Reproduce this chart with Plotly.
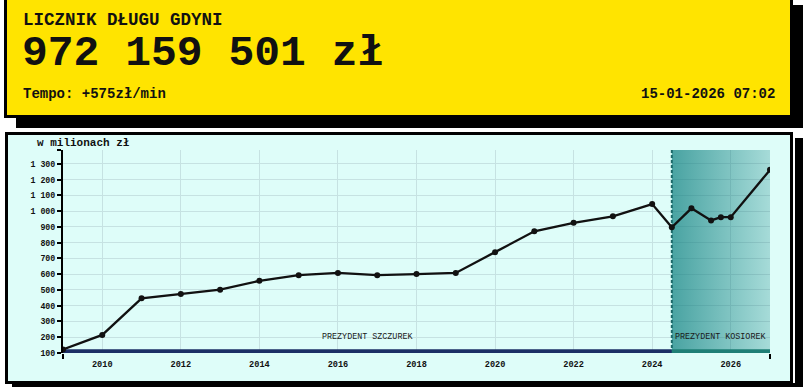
import plotly.graph_objects as go

# ---------------- data ----------------
years = [2009, 2010, 2011, 2012, 2013, 2014, 2015, 2016, 2017, 2018, 2019,
         2020, 2021, 2022, 2023, 2024, 2024.5, 2025, 2025.5, 2025.75, 2026, 2027]
debt = [122, 215, 447, 475, 502, 558, 594, 608, 594, 601, 608,
        740, 872, 926, 967, 1045, 898, 1018, 941, 962, 962, 1262]

term_names = ["PREZYDENT SZCZUREK", "PREZYDENT KOSIOREK"]
term_start = [2009, 2024.5]
term_end = [2024.5, 2027]

y_tickvals = [100, 200, 300, 400, 500, 600, 700, 800, 900, 1000, 1100, 1200, 1300]
y_ticktext = ["100", "200", "300", "400", "500", "600", "700", "800", "900",
              "1 000", "1 100", "1 200", "1 300"]
x_tickvals = [2010, 2012, 2014, 2016, 2018, 2020, 2022, 2024, 2026]
x_ticktext = ["2010", "2012", "2014", "2016", "2018", "2020", "2022", "2024", "2026"]

title_text = "LICZNIK DŁUGU GDYNI"
counter_text = "972 159 501 zł"
tempo_text = "Tempo: +575zł/min"
date_text = "15-01-2026 07:02"
unit_text = "w milionach zł"

Y_MIN = 100
Y_MAX = 1388

# ---------------- layout geometry (pixels) ----------------
WIDTH, HEIGHT = 807, 387
ML, MR, MT, MB = 63, 37, 150, 34
PW = WIDTH - ML - MR
PH = HEIGHT - MT - MB


def X(px):
    return (px - ML) / PW


def Y(py):
    return (HEIGHT - MB - py) / PH


FONT = "Liberation Mono, Courier New, monospace"
YELLOW = "#FFE400"
CYAN = "#DEFDF9"
NAVY = "#1B2F66"
TEAL = "#1E7F76"
BAND = 24  # band thickness in data units

fig = go.Figure()

# shaded region of the second term (gradient)
fig.add_trace(go.Scatter(
    x=[term_start[1], term_end[1], term_end[1], term_start[1], term_start[1]],
    y=[Y_MIN, Y_MIN, Y_MAX, Y_MAX, Y_MIN],
    mode="lines", line=dict(width=0), fill="toself",
    fillgradient=dict(type="horizontal",
                      colorscale=[[0, "rgba(15,128,128,0.72)"],
                                  [1, "rgba(15,128,128,0.27)"]]),
    hoverinfo="skip", showlegend=False))

# dashed boundary line
fig.add_trace(go.Scatter(
    x=[term_start[1], term_start[1]], y=[Y_MIN, Y_MAX],
    mode="lines", line=dict(color="#1D6A6A", width=2, dash="3px,2px"),
    hoverinfo="skip", showlegend=False))

# term bands at the bottom
for s, e, c in zip(term_start, term_end, [NAVY, TEAL]):
    fig.add_trace(go.Scatter(
        x=[s, e, e, s, s], y=[Y_MIN, Y_MIN, Y_MIN + BAND, Y_MIN + BAND, Y_MIN],
        mode="lines", line=dict(width=0), fill="toself", fillcolor=c,
        hoverinfo="skip", showlegend=False))

# debt line
fig.add_trace(go.Scatter(
    x=years, y=debt, mode="lines+markers",
    line=dict(color="#111111", width=2.3),
    marker=dict(color="#111111", size=6),
    showlegend=False))

shapes = [
    # top box shadow + box
    dict(type="rect", xref="paper", yref="paper", layer="below",
         x0=X(16), x1=X(803), y0=Y(128), y1=Y(5),
         fillcolor="black", line=dict(width=0)),
    dict(type="rect", xref="paper", yref="paper", layer="below",
         x0=X(5.5), x1=X(791.5), y0=Y(116.5), y1=Y(-5),
         fillcolor=YELLOW, line=dict(color="black", width=3)),
    # chart box shadow + box
    dict(type="rect", xref="paper", yref="paper", layer="below",
         x0=X(795), x1=X(803), y0=Y(392), y1=Y(138),
         fillcolor="black", line=dict(width=0)),
    dict(type="rect", xref="paper", yref="paper", layer="below",
         x0=X(12), x1=X(803), y0=Y(392), y1=Y(383),
         fillcolor="black", line=dict(width=0)),
    dict(type="rect", xref="paper", yref="paper", layer="below",
         x0=X(6.5), x1=X(791.5), y0=Y(382.5), y1=Y(133.5),
         fillcolor=CYAN, line=dict(color="black", width=3)),
]

annotations = [
    dict(text="<b>%s</b>" % title_text, xref="paper", yref="paper",
         x=X(21), y=Y(20), xanchor="left", yanchor="middle", showarrow=False,
         font=dict(family=FONT, size=17.5, color="#111")),
    dict(text="<b>%s</b>" % counter_text, xref="paper", yref="paper",
         x=X(20), y=Y(53), xanchor="left", yanchor="middle", showarrow=False,
         font=dict(family=FONT, size=43, color="#111")),
    dict(text="<b>%s</b>" % tempo_text, xref="paper", yref="paper",
         x=X(21), y=Y(94), xanchor="left", yanchor="middle", showarrow=False,
         font=dict(family=FONT, size=14, color="#111")),
    dict(text="<b>%s</b>" % date_text, xref="paper", yref="paper",
         x=X(777), y=Y(94), xanchor="right", yanchor="middle", showarrow=False,
         font=dict(family=FONT, size=14, color="#111")),
    dict(text="<b>%s</b>" % unit_text, xref="paper", yref="paper",
         x=X(35), y=Y(143), xanchor="left", yanchor="middle", showarrow=False,
         font=dict(family=FONT, size=11, color="#111")),
]
for name, s, e in zip(term_names, term_start, term_end):
    annotations.append(dict(
        text=name, xref="x", yref="paper", x=(s + e) / 2, y=Y(336.5),
        xanchor="center", yanchor="middle", showarrow=False,
        font=dict(family=FONT, size=8.4, color="#1a1a1a")))

fig.update_layout(
    width=WIDTH, height=HEIGHT,
    margin=dict(l=ML, r=MR, t=MT, b=MB, pad=0),
    paper_bgcolor="white", plot_bgcolor="rgba(0,0,0,0)",
    shapes=shapes, annotations=annotations,
    font=dict(family=FONT, color="#111"),
    xaxis=dict(range=[term_start[0], term_end[-1]], tickvals=x_tickvals,
               ticktext=x_ticktext, ticks="", showline=False, zeroline=False,
               showgrid=True, gridcolor="#C6E2E2", gridwidth=1,
               ticklabelstandoff=4,
               tickfont=dict(family=FONT, size=8.6, color="#111", weight="bold"),
               minor=dict(tickvals=[term_start[0], term_end[-1]], ticks="outside",
                          ticklen=5, tickwidth=1.5, tickcolor="black",
                          showgrid=False)),
    yaxis=dict(range=[Y_MIN, Y_MAX], tickvals=y_tickvals, ticktext=y_ticktext,
               ticks="outside", ticklen=4, tickwidth=1.5, tickcolor="black",
               showline=True, linecolor="black", linewidth=2, zeroline=False,
               showgrid=True, gridcolor="#C6E2E2", gridwidth=1,
               tickfont=dict(family=FONT, size=8.3, color="#111", weight="bold"),
               minor=dict(tickvals=[Y_MAX], ticks="outside", ticklen=4,
                          tickwidth=1.5, tickcolor="black", showgrid=False)),
)

fig.write_html("out.html")
